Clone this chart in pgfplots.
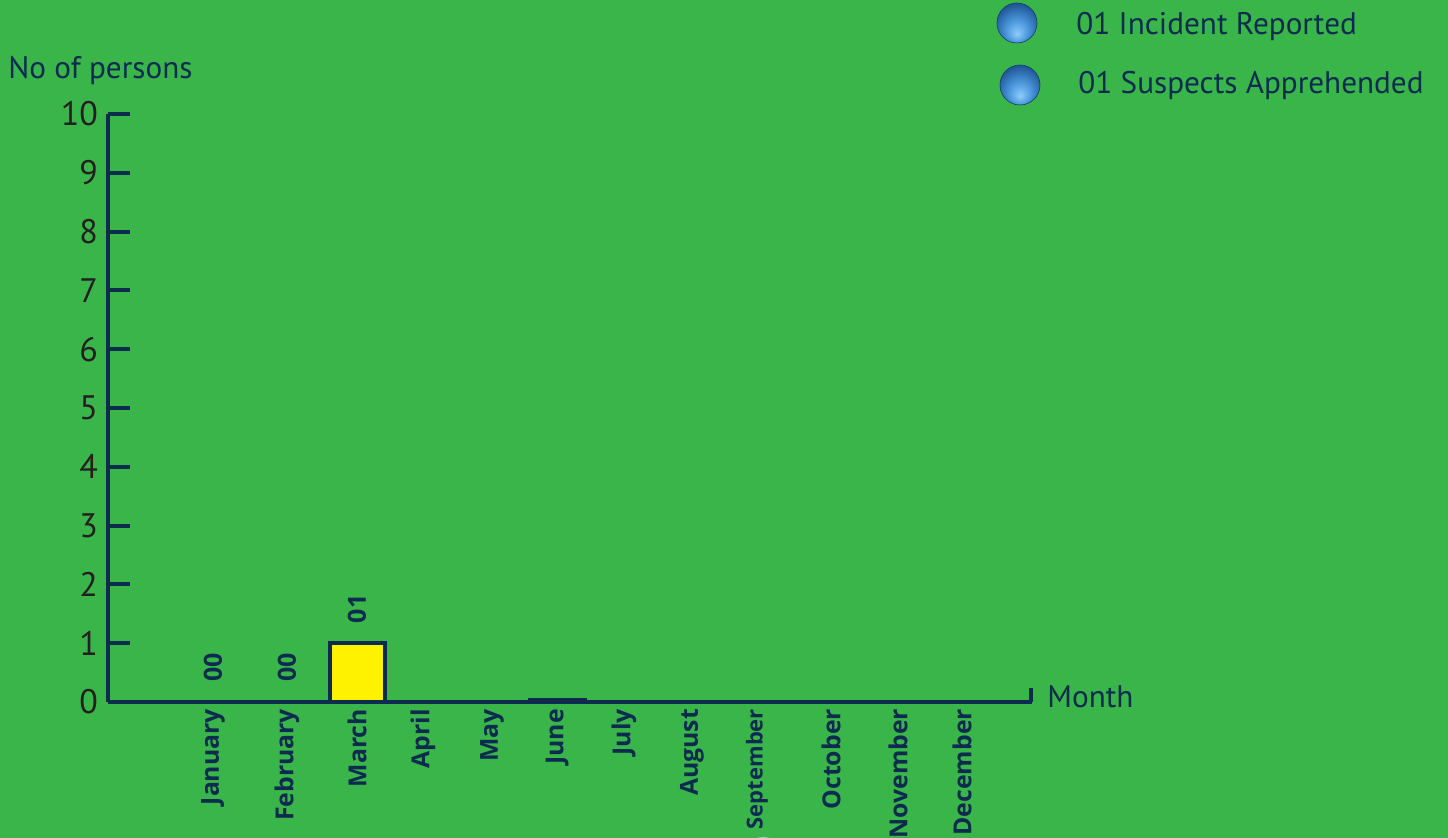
\documentclass[border=0pt]{standalone}
\usepackage{fontspec}
\setmainfont{PT Sans}
\newfontfamily\osans{Open Sans}
\usepackage{pgfplots}
\pgfplotsset{compat=1.18}
\definecolor{bg}{RGB}{58,181,74}
\definecolor{navy}{RGB}{13,43,78}
\definecolor{tickc}{RGB}{35,31,32}
\definecolor{baryellow}{RGB}{255,242,0}
\definecolor{lb}{RGB}{140,205,250}
\definecolor{mb}{RGB}{75,150,220}
\definecolor{db}{RGB}{30,85,150}
\definecolor{pale}{RGB}{160,200,215}
\pgfdeclareradialshading{glossy}{\pgfpoint{0bp}{-14bp}}{color(0bp)=(lb); color(14bp)=(mb); color(30bp)=(db); color(36bp)=(db); color(50bp)=(db)}
\begin{document}
\begin{tikzpicture}
\fill[bg] (0,0) rectangle (724pt,-419pt);
\useasboundingbox (0,0) rectangle (724pt,-419pt);
\begin{scope}
\clip (0,0) rectangle (724pt,-419pt);
\fill[pale] (381.5pt,-428.5pt) circle (10pt);
\end{scope}
\shade[shading=glossy, draw=db!70!black, line width=0.3pt] (508.5pt,-11.5pt) circle (10pt);
\shade[shading=glossy, draw=db!70!black, line width=0.3pt] (510pt,-42.5pt) circle (10pt);
\node[anchor=west, inner sep=0pt, text=navy, font=\fontsize{15.6}{15.6}\selectfont] at (538pt,-13.5pt) {01 Incident Reported};
\node[anchor=west, inner sep=0pt, text=navy, font=\fontsize{15.6}{15.6}\selectfont] at (539pt,-43pt) {01 Suspects Apprehended};
\node[anchor=west, inner sep=0pt, text=navy, font=\fontsize{15.6}{15.6}\selectfont] at (4pt,-35.5pt) {No of persons};
\node[anchor=west, inner sep=0pt, text=navy, font=\fontsize{15.6}{15.6}\selectfont] at (523.5pt,-348.5pt) {Month};
\begin{axis}[
  at={(54pt,-351pt)}, anchor=south west,
  scale only axis, width=462pt, height=294pt,
  xmin=108, xmax=1032, ymin=0, ymax=10,
  axis x line=bottom, axis y line=left,
  axis line style={-, line width=2pt, draw=navy},
  ytick={0,...,10},
  tick align=inside,
  major tick length=11pt,
  ytick style={line width=2pt, draw=navy},
  xtick style={draw=none},
  xtick={213,287,357,423,492,557,624,692,757,831,898,962},
  xticklabels={January,February,March,April,May,June,July,August,{\fontsize{11}{11}\selectfont September},October,November,December},
  x tick label style={rotate=90, anchor=east, font=\osans\bfseries\fontsize{12.4}{12.4}\selectfont, text=navy},
  y tick label style={font=\fontsize{17}{17}\selectfont, text=tickc, xshift=-1.5pt},
  /pgf/number format/assume math mode=true,
  clip=false,
]
\addplot[ybar, bar width=55, draw=navy, line width=2pt, fill=baryellow,
  nodes near coords, point meta=explicit symbolic,
  every node near coord/.append style={rotate=90, anchor=west, inner sep=0pt, outer xsep=10pt, font=\osans\bfseries\fontsize{12.5}{12.5}\selectfont, text=navy}]
coordinates {(213,0) [00] (287,0) [00] (357,1) [01] (423,0) [] (492,0) [] (557,0.04) [] (624,0) [] (692,0) [] (757,0) [] (831,0) [] (898,0) [] (962,0) []};
\draw[navy, line width=2pt] (axis cs:1031,0) -- (axis cs:1031,0.24);
\end{axis}
\end{tikzpicture}
\end{document}
